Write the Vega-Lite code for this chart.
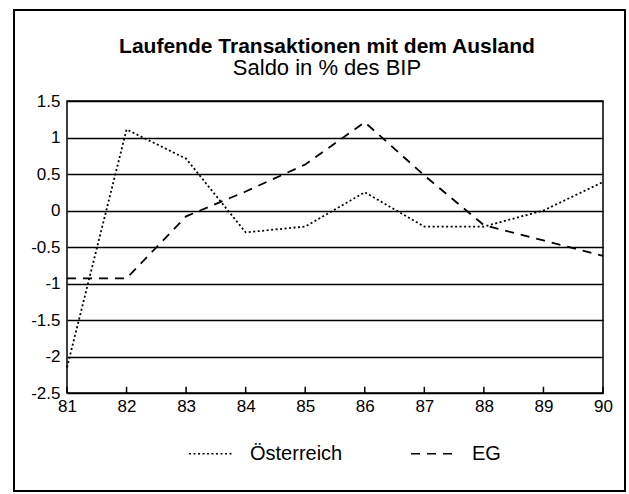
{
  "$schema": "https://vega.github.io/schema/vega-lite/v6.json",
  "width": 536,
  "height": 292,
  "autosize": {"type": "none"},
  "padding": {"left": 67, "top": 101, "right": 26, "bottom": 101},
  "background": "white",
  "title": {
    "text": "Laufende Transaktionen mit dem Ausland",
    "subtitle": "Saldo in % des BIP",
    "anchor": "middle",
    "font": "Liberation Sans",
    "fontSize": 21,
    "fontWeight": "bold",
    "color": "black",
    "subtitleFont": "Liberation Sans",
    "subtitleFontSize": 22,
    "subtitleColor": "black",
    "subtitlePadding": 1,
    "offset": -70,
    "dx": -8
  },
  "config": {
    "view": {"stroke": "black", "strokeWidth": 1.5},
    "font": "Liberation Sans"
  },
  "data": {
    "values": [
      {"Jahr": 81, "Land": "Österreich", "Saldo": -2.15},
      {"Jahr": 82, "Land": "Österreich", "Saldo": 1.11},
      {"Jahr": 83, "Land": "Österreich", "Saldo": 0.71},
      {"Jahr": 84, "Land": "Österreich", "Saldo": -0.3},
      {"Jahr": 85, "Land": "Österreich", "Saldo": -0.22},
      {"Jahr": 86, "Land": "Österreich", "Saldo": 0.25},
      {"Jahr": 87, "Land": "Österreich", "Saldo": -0.22},
      {"Jahr": 88, "Land": "Österreich", "Saldo": -0.22},
      {"Jahr": 89, "Land": "Österreich", "Saldo": 0.0},
      {"Jahr": 90, "Land": "Österreich", "Saldo": 0.39},
      {"Jahr": 81, "Land": "EG", "Saldo": -0.93},
      {"Jahr": 82, "Land": "EG", "Saldo": -0.93},
      {"Jahr": 83, "Land": "EG", "Saldo": -0.08},
      {"Jahr": 84, "Land": "EG", "Saldo": 0.26},
      {"Jahr": 85, "Land": "EG", "Saldo": 0.63},
      {"Jahr": 86, "Land": "EG", "Saldo": 1.21},
      {"Jahr": 87, "Land": "EG", "Saldo": 0.48},
      {"Jahr": 88, "Land": "EG", "Saldo": -0.2},
      {"Jahr": 89, "Land": "EG", "Saldo": -0.41},
      {"Jahr": 90, "Land": "EG", "Saldo": -0.62}
    ]
  },
  "layer": [
    {
      "mark": {"type": "rect", "fill": null, "stroke": "black", "strokeWidth": 1.5, "clip": false},
      "encoding": {
        "x": {"datum": 80.11, "type": "quantitative"},
        "x2": {"datum": 90.37},
        "y": {"datum": 2.75, "type": "quantitative"},
        "y2": {"datum": -3.84}
      }
    },
    {
      "transform": [{"filter": "datum.Land === 'EG'"}],
      "mark": {"type": "rule", "stroke": "black", "strokeWidth": 1.5},
      "encoding": {
        "x": {"field": "Jahr", "type": "quantitative"},
        "y": {"datum": -2.5, "type": "quantitative"},
        "y2": {"datum": -2.415}
      }
    },
    {
      "mark": {"type": "line", "stroke": "black", "strokeWidth": 1.8},
      "encoding": {
        "x": {
          "field": "Jahr",
          "type": "quantitative",
          "scale": {"domain": [81, 90], "nice": false, "zero": false},
          "axis": {
            "title": null,
            "values": [81, 82, 83, 84, 85, 86, 87, 88, 89, 90],
            "tickCount": 30,
            "format": "d",
            "grid": false,
            "domain": false,
            "ticks": false,
            "labelFontSize": 17,
            "labelColor": "black",
            "labelPadding": 5,
            "labelFlush": false,
            "labelOverlap": false,
            "labelFont": "Liberation Sans"
          }
        },
        "y": {
          "field": "Saldo",
          "type": "quantitative",
          "scale": {"domain": [-2.5, 1.5], "nice": false, "zero": false},
          "axis": {
            "title": null,
            "values": [-2.5, -2, -1.5, -1, -0.5, 0, 0.5, 1, 1.5],
            "tickCount": 30,
            "labelExpr": "datum.value < 0 ? '-' + format(-datum.value, '.1~f') : format(datum.value, '.1~f')",
            "grid": true,
            "gridColor": "black",
            "gridWidth": 1.6,
            "gridOpacity": 1,
            "domain": false,
            "ticks": false,
            "labelFontSize": 17,
            "labelColor": "black",
            "labelPadding": 7,
            "labelFlush": false,
            "labelOverlap": false,
            "labelFont": "Liberation Sans"
          }
        },
        "strokeDash": {
          "field": "Land",
          "type": "nominal",
          "scale": {"domain": ["Österreich", "EG"], "range": [[2, 2.5], [9, 7]]},
          "legend": {
            "title": null,
            "orient": "none",
            "direction": "horizontal",
            "legendX": 121,
            "legendY": 329,
            "symbolType": "stroke",
            "symbolSize": 2025,
            "symbolStrokeWidth": 1.6,
            "symbolStrokeColor": "black",
            "labelFontSize": 20,
            "labelColor": "black",
            "labelFont": "Liberation Sans",
            "labelOffset": 15,
            "columnPadding": 64
          }
        }
      }
    }
  ]
}
